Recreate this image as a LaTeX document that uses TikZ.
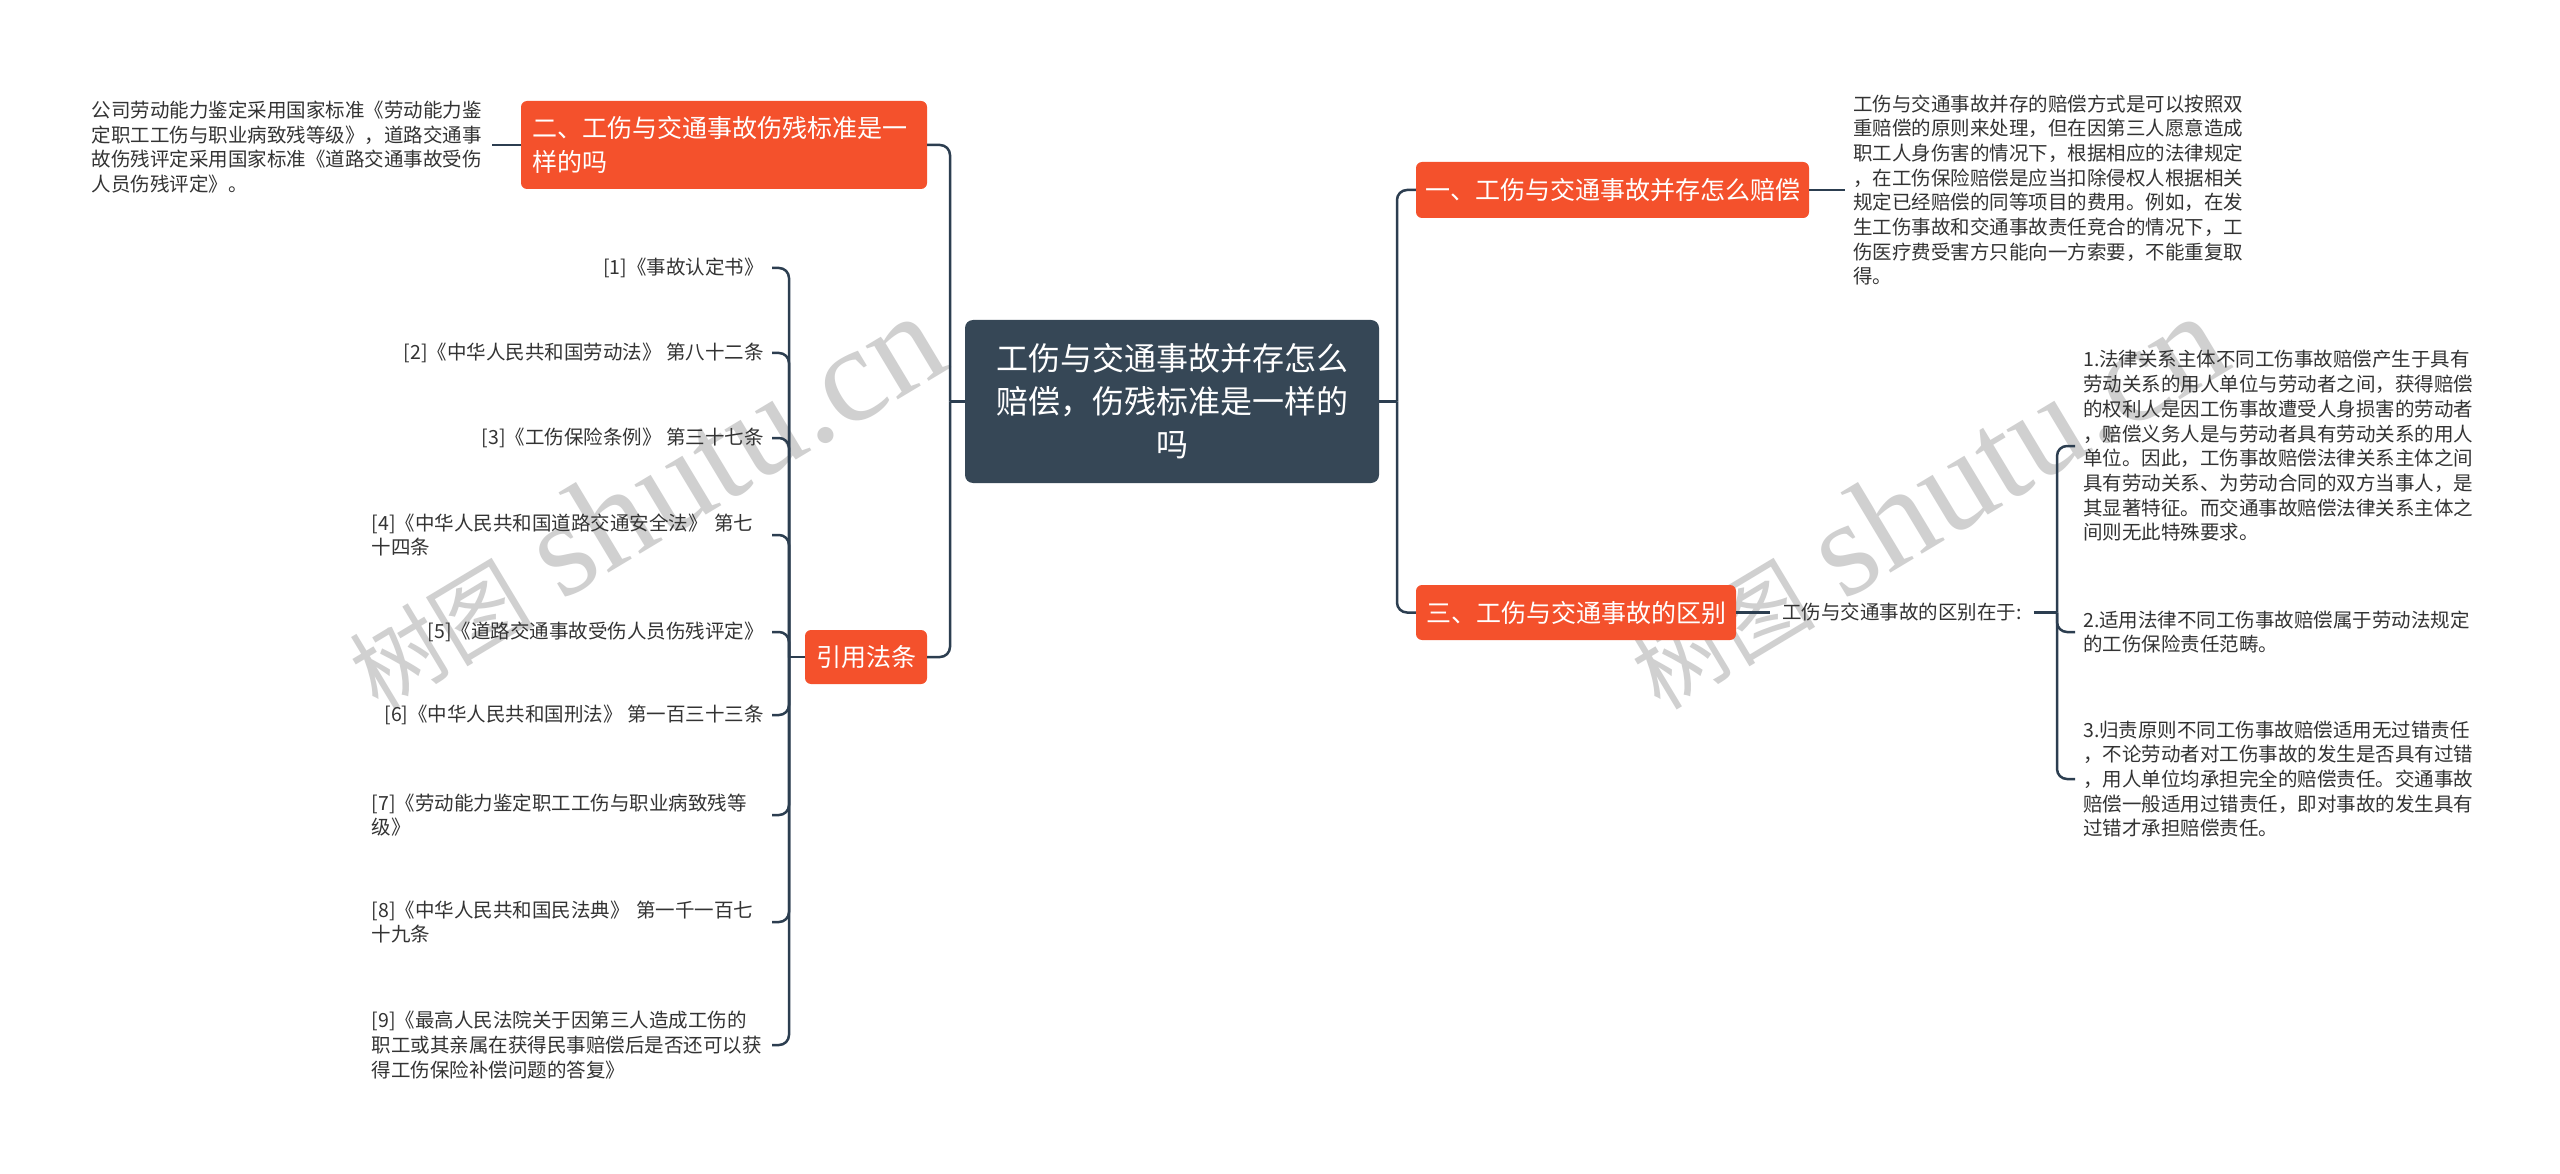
\documentclass[tikz,border=0pt]{standalone}
\usepackage{fontspec}
\setmainfont{Noto Sans CJK SC}
\newfontfamily\wmserif{Liberation Serif}
\newfontfamily\wmcjk{Noto Sans CJK SC}
\usetikzlibrary{calc}
\definecolor{orangeC}{RGB}{244,81,44}
\definecolor{slateC}{RGB}{54,71,86}
\definecolor{lineC}{RGB}{44,62,80}
\definecolor{txtC}{RGB}{51,51,51}
\definecolor{wmC}{RGB}{208,208,208}
\begin{document}
\begin{tikzpicture}[x=1pt,y=-1pt,
  topic/.style={fill=orangeC, text=white, rounded corners=6pt, inner sep=0pt, font=\fontsize{25}{34}\selectfont},
  root/.style={fill=slateC, text=white, rounded corners=8pt, inner sep=0pt, font=\fontsize{32}{43}\selectfont, align=center, minimum width=414pt, minimum height=163pt},
  leaf/.style={text=txtC, inner xsep=8pt, inner ysep=2pt, font=\fontsize{19.5}{24.7}\selectfont},
  conn/.style={draw=lineC, line width=2.5pt, rounded corners=10pt},
  wm/.style={text=wmC, inner sep=0pt, rotate=31, anchor=base west}
]
\fill[white] (0,0) rectangle (2560,1174);
\useasboundingbox (0,0) rectangle (2560,1174);

% watermarks
\node[wm] (wm1) at (378,712) {{\wmcjk\fontsize{92}{92}\selectfont 树图}\hspace{30pt}{\wmserif\fontsize{136}{136}\selectfont shutu.cn}};
\node[wm] (wm2) at (1660,712) {{\wmcjk\fontsize{92}{92}\selectfont 树图}\hspace{30pt}{\wmserif\fontsize{136}{136}\selectfont shutu.cn}};

% main nodes
\node[root] (c) at (1172,401.5) {工伤与交通事故并存怎么\\赔偿，伤残标准是一样的\\吗};
\node[topic, minimum width=393pt, minimum height=56pt] (n1) at (1612.5,190) {一、工伤与交通事故并存怎么赔偿};
\node[topic, minimum width=406pt, minimum height=88pt, align=left, text width=384pt] (n2) at (724,145) {二、工伤与交通事故伤残标准是一\\样的吗};
\node[topic, minimum width=320pt, minimum height=55pt] (n3) at (1576,612.5) {三、工伤与交通事故的区别};
\node[topic, minimum width=122pt, minimum height=54pt] (n4) at (866,657) {引用法条};

% leaf texts
\node[leaf, anchor=east, align=left, text width=392pt] (t2) at (492,147) {公司劳动能力鉴定采用国家标准《劳动能力鉴\\定职工工伤与职业病致残等级》，道路交通事\\故伤残评定采用国家标准《道路交通事故受伤\\人员伤残评定》。};
\node[leaf, anchor=west, align=left, text width=392pt] (t1) at (1845,190) {工伤与交通事故并存的赔偿方式是可以按照双\\重赔偿的原则来处理，但在因第三人愿意造成\\职工人身伤害的情况下，根据相应的法律规定\\，在工伤保险赔偿是应当扣除侵权人根据相关\\规定已经赔偿的同等项目的费用。例如，在发\\生工伤事故和交通事故责任竞合的情况下，工\\伤医疗费受害方只能向一方索要，不能重复取\\得。};
\node[leaf, anchor=west, inner xsep=12pt] (t3) at (1770,612.5) {工伤与交通事故的区别在于:};

\node[leaf, anchor=west, align=left, text width=392pt] (d1) at (2075,446) {1.法律关系主体不同工伤事故赔偿产生于具有\\劳动关系的用人单位与劳动者之间，获得赔偿\\的权利人是因工伤事故遭受人身损害的劳动者\\，赔偿义务人是与劳动者具有劳动关系的用人\\单位。因此，工伤事故赔偿法律关系主体之间\\具有劳动关系、为劳动合同的双方当事人，是\\其显著特征。而交通事故赔偿法律关系主体之\\间则无此特殊要求。};
\node[leaf, anchor=west, align=left, text width=392pt] (d2) at (2075,632) {2.适用法律不同工伤事故赔偿属于劳动法规定\\的工伤保险责任范畴。};
\node[leaf, anchor=west, align=left, text width=392pt] (d3) at (2075,779) {3.归责原则不同工伤事故赔偿适用无过错责任\\，不论劳动者对工伤事故的发生是否具有过错\\，用人单位均承担完全的赔偿责任。交通事故\\赔偿一般适用过错责任，即对事故的发生具有\\过错才承担赔偿责任。};

% references
\node[leaf, anchor=east] (r1) at (772,268) {[1]《事故认定书》};
\node[leaf, anchor=east] (r2) at (772,353) {[2]《中华人民共和国劳动法》 第八十二条};
\node[leaf, anchor=east] (r3) at (772,438) {[3]《工伤保险条例》 第三十七条};
\node[leaf, anchor=east, align=left, text width=392pt] (r4) at (772,535) {[4]《中华人民共和国道路交通安全法》 第七\\十四条};
\node[leaf, anchor=east] (r5) at (772,632) {[5]《道路交通事故受伤人员伤残评定》};
\node[leaf, anchor=east] (r6) at (772,715) {[6]《中华人民共和国刑法》 第一百三十三条};
\node[leaf, anchor=east, align=left, text width=392pt] (r7) at (772,815) {[7]《劳动能力鉴定职工工伤与职业病致残等\\级》};
\node[leaf, anchor=east, align=left, text width=392pt] (r8) at (772,922) {[8]《中华人民共和国民法典》 第一千一百七\\十九条};
\node[leaf, anchor=east, align=left, text width=392pt] (r9) at (772,1045) {[9]《最高人民法院关于因第三人造成工伤的\\职工或其亲属在获得民事赔偿后是否还可以获\\得工伤保险补偿问题的答复》};

% connectors
\coordinate (jl) at (950,401.5);
\coordinate (jr) at (1397,401.5);
\coordinate (jq) at (789,657);
\coordinate (jb) at (2057,612.5);
\draw[conn] (c.west) -- (jl);
\draw[conn] (jl) |- (n2.east);
\draw[conn] (jl) |- (n4.east);
\draw[conn] (c.east) -- (jr);
\draw[conn] (jr) |- (n1.west);
\draw[conn] (jr) |- (n3.west);
\draw[conn] (n1.east) -- (t1.west);
\draw[conn] (n2.west) -- (t2.east |- n2.west);
\draw[conn] (n3.east) -- (t3.west);
\draw[conn] (t3.east) -- (jb);
\foreach \d in {d1,d2,d3} \draw[conn] (jb) |- (\d.west);
\draw[conn] (n4.west) -- (jq);
\foreach \r in {r1,r2,r3,r4,r5,r6,r7,r8,r9} \draw[conn] (jq) |- (\r.east);
\end{tikzpicture}
\end{document}
